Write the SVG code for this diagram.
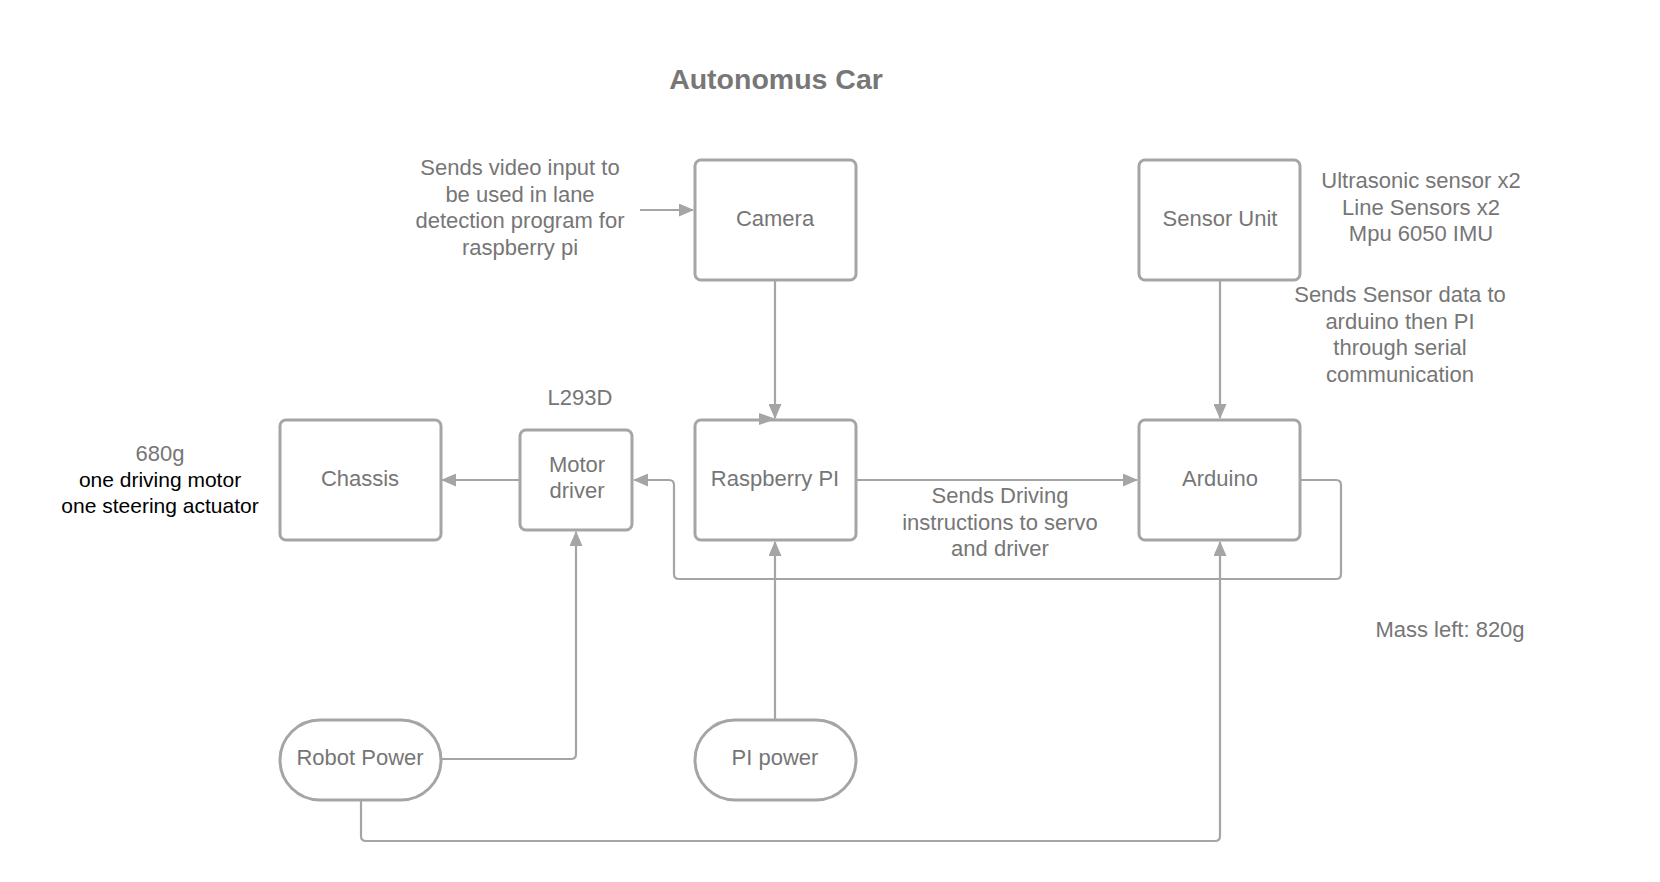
<svg xmlns="http://www.w3.org/2000/svg" width="1660" height="882" viewBox="0 0 1660 882">
<style>
.box{fill:#fff;stroke:#a5a5a5;stroke-width:3}
.t{font-family:"Liberation Sans",Arial,sans-serif;font-size:22px;fill:#767676;text-anchor:middle}
.k{font-family:"Liberation Sans",Arial,sans-serif;font-size:21px;fill:#000;text-anchor:middle}
.ttl{font-family:"Liberation Sans",Arial,sans-serif;font-size:28.5px;font-weight:bold;fill:#777;text-anchor:middle}
.c{fill:none;stroke:#a5a5a5;stroke-width:2.2;stroke-linejoin:round}
.ah{fill:#a5a5a5}
</style>
<defs>
<marker id="arr" viewBox="0 0 15 13" refX="14" refY="6.5" markerWidth="15" markerHeight="13" markerUnits="userSpaceOnUse" orient="auto">
<path d="M0,0 L15,6.5 L0,13 Z" class="ah"/>
</marker>
</defs>
<rect width="1660" height="882" fill="#fff"/>
<text class="ttl" x="776" y="89">Autonomus Car</text>

<g id="camera">
<rect class="box" x="695" y="160" width="161" height="120" rx="6"/>
<text class="t" x="775" y="226">Camera</text>
</g>
<g id="sensor-unit">
<rect class="box" x="1139" y="160" width="161" height="120" rx="6"/>
<text class="t" x="1220" y="226">Sensor Unit</text>
</g>
<g id="chassis">
<rect class="box" x="280" y="420" width="161" height="120" rx="6"/>
<text class="t" x="360" y="486">Chassis</text>
</g>
<g id="motor-driver">
<rect class="box" x="520" y="430" width="112" height="100" rx="6"/>
<text class="t" x="577" y="472">Motor</text>
<text class="t" x="577" y="498">driver</text>
</g>
<g id="raspberry-pi">
<rect class="box" x="695" y="420" width="161" height="120" rx="6"/>
<text class="t" x="775" y="486">Raspberry PI</text>
</g>
<g id="arduino">
<rect class="box" x="1139" y="420" width="161" height="120" rx="6"/>
<text class="t" x="1220" y="486">Arduino</text>
</g>
<g id="robot-power">
<rect class="box" x="280" y="720" width="161" height="80" rx="40"/>
<text class="t" x="360" y="765">Robot Power</text>
</g>
<g id="pi-power">
<rect class="box" x="695" y="720" width="161" height="80" rx="40"/>
<text class="t" x="775" y="765">PI power</text>
</g>

<g id="connectors">
<path class="c" d="M640,210 H693" marker-end="url(#arr)"/>
<path class="c" d="M775,280 V418" marker-end="url(#arr)"/>
<path class="ah" d="M776,419 L759,413 L759,425 Z"/>
<path class="c" d="M1220,280 V418" marker-end="url(#arr)"/>
<path class="c" d="M856,480 H1137" marker-end="url(#arr)"/>
<path class="c" d="M520,480 H442" marker-end="url(#arr)"/>
<path class="c" d="M1300,480 H1336 Q1341,480 1341,485 V574 Q1341,579 1336,579 H679 Q674,579 674,574 V485 Q674,480 669,480 H634" marker-end="url(#arr)"/>
<path class="c" d="M442,759 H571 Q576,759 576,754 V532" marker-end="url(#arr)"/>
<path class="c" d="M775,720 V542" marker-end="url(#arr)"/>
<path class="c" d="M361,800 V836 Q361,841 366,841 H1215 Q1220,841 1220,836 V542" marker-end="url(#arr)"/>
</g>

<g id="labels">
<text class="t" x="520"><tspan x="520" y="175">Sends video input to</tspan><tspan x="520" y="201.5">be used in lane</tspan><tspan x="520" y="228">detection program for</tspan><tspan x="520" y="254.5">raspberry pi</tspan></text>
<text class="t" x="1421"><tspan x="1421" y="188">Ultrasonic sensor x2</tspan><tspan x="1421" y="214.5">Line Sensors x2</tspan><tspan x="1421" y="241">Mpu 6050 IMU</tspan></text>
<text class="t" x="1400"><tspan x="1400" y="302">Sends Sensor data to</tspan><tspan x="1400" y="328.5">arduino then PI</tspan><tspan x="1400" y="355">through serial</tspan><tspan x="1400" y="381.5">communication</tspan></text>
<text class="t" x="580" y="405">L293D</text>
<text class="t" x="160" y="461">680g</text>
<text class="k" x="160" y="487">one driving motor</text>
<text class="k" x="160" y="513">one steering actuator</text>
<text class="t" x="1000"><tspan x="1000" y="503">Sends Driving</tspan><tspan x="1000" y="529.5">instructions to servo</tspan><tspan x="1000" y="556">and driver</tspan></text>
<text class="t" x="1450" y="637">Mass left: 820g</text>
</g>
</svg>
